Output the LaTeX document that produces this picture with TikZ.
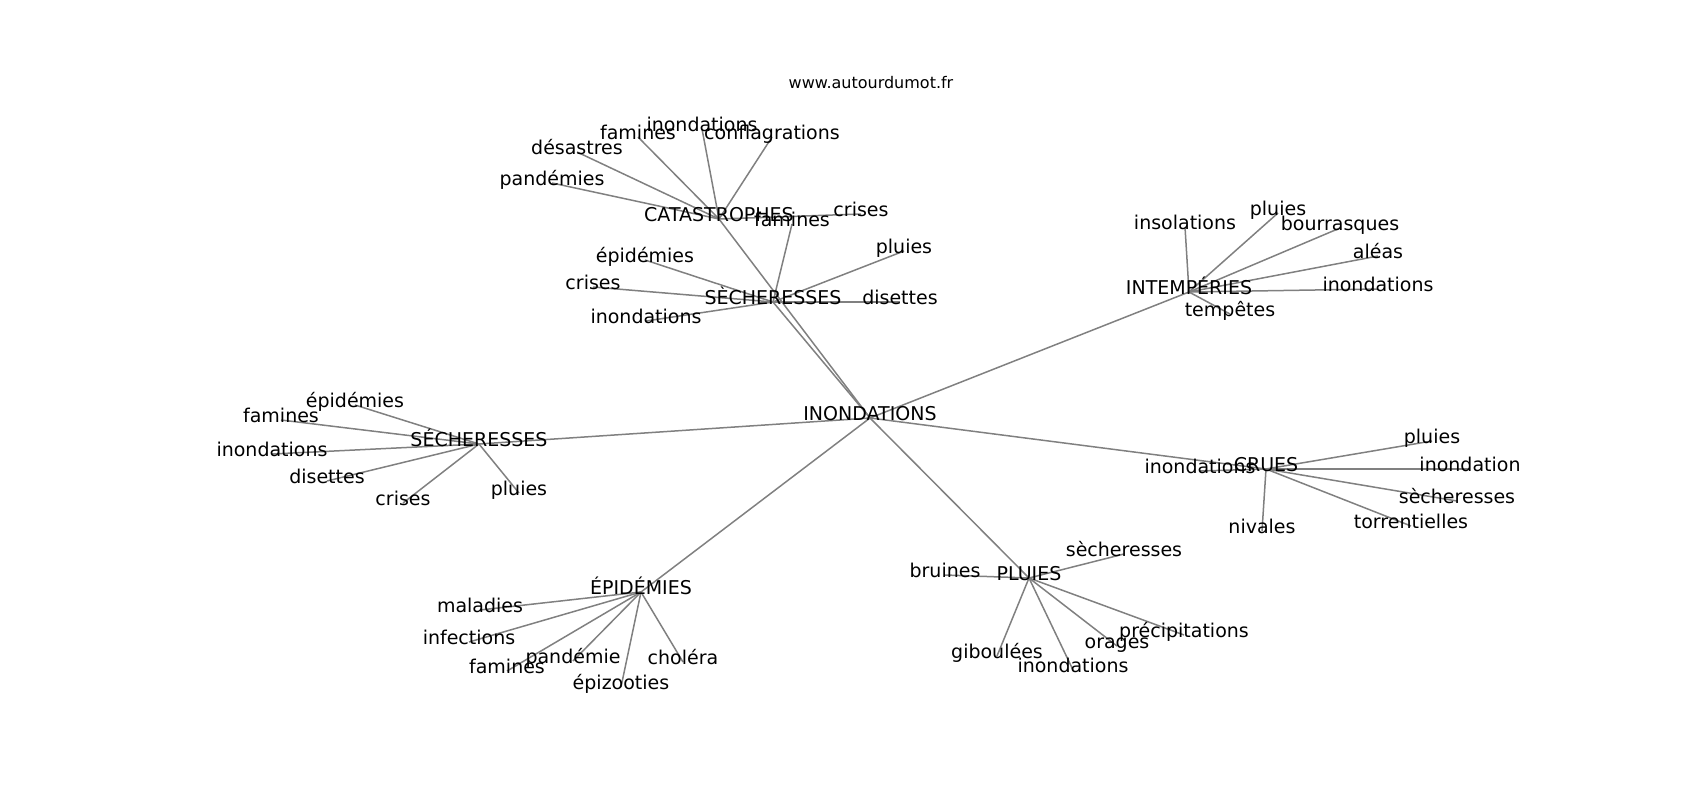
\documentclass[tikz,border=0pt]{standalone}
\usepackage{fontspec}
\setmainfont{DejaVu Sans}
\usetikzlibrary{backgrounds}

\begin{document}
\begin{tikzpicture}[x=1pt, y=-1pt,
	word/.style={inner sep=0pt, yshift=-4pt, text height=0.76em, text depth=0.24em, font=\fontsize{19}{23}\selectfont},
	link/.style={draw=gray, line width=1.5pt}]
	\useasboundingbox (0,0) rectangle (1700,800);

	\node[inner sep=0pt, font=\fontsize{16}{19}\selectfont] (site) at (871,83) {www.autourdumot.fr};

	% centre and first ring
	\node[word] (inond) at (870,414) {INONDATIONS};
	\foreach \n/\x/\y/\t in {cat/719/215/CATASTROPHES, seca/773/298/SÈCHERESSES,
		intemp/1189/288/INTEMPÉRIES, secb/479/440/SÉCHERESSES, crues/1266/465/CRUES,
		pluies/1029/574/PLUIES, epid/641/588/ÉPIDÉMIES}
		\node[word] (\n) at (\x,\y) {\t};

	% second ring
	\foreach \n/\x/\y/\t in {cat1/552/179/pandémies, cat2/577/148/désastres, cat3/638/133/famines,
		cat4/702/125/inondations, cat5/772/133/conflagrations, cat6/861/210/crises}
		\node[word] (\n) at (\x,\y) {\t};
	\foreach \n/\x/\y/\t in {seca1/645/256/épidémies, seca2/593/283/crises, seca3/646/317/inondations,
		seca4/792/220/famines, seca5/904/247/pluies, seca6/900/298/disettes}
		\node[word] (\n) at (\x,\y) {\t};
	\foreach \n/\x/\y/\t in {intemp1/1185/223/insolations, intemp2/1278/209/pluies, intemp3/1340/224/bourrasques,
		intemp4/1378/252/aléas, intemp5/1378/285/inondations, intemp6/1230/310/tempêtes}
		\node[word] (\n) at (\x,\y) {\t};
	\foreach \n/\x/\y/\t in {secb1/355/401/épidémies, secb2/281/416/famines, secb3/272/450/inondations,
		secb4/327/477/disettes, secb5/403/499/crises, secb6/519/489/pluies}
		\node[word] (\n) at (\x,\y) {\t};
	\foreach \n/\x/\y/\t in {crues1/1200/467/inondations, crues2/1432/437/pluies, crues3/1470/465/inondation,
		crues4/1457/497/sècheresses, crues5/1411/522/torrentielles, crues6/1262/527/nivales}
		\node[word] (\n) at (\x,\y) {\t};
	\foreach \n/\x/\y/\t in {pluies1/945/571/bruines, pluies2/1124/550/sècheresses, pluies3/1184/631/précipitations,
		pluies4/1117/642/orages, pluies5/1073/666/inondations, pluies6/997/652/giboulées}
		\node[word] (\n) at (\x,\y) {\t};
	\foreach \n/\x/\y/\t in {epid1/480/606/maladies, epid2/469/638/infections, epid3/507/667/famines,
		epid4/573/657/pandémie, epid5/621/683/épizooties, epid6/683/658/choléra}
		\node[word] (\n) at (\x,\y) {\t};

	\begin{pgfonlayer}{background}
		\foreach \h in {cat,seca,intemp,secb,crues,pluies,epid} {
			\draw[link] (inond.center) -- (\h.center);
			\foreach \i in {1,...,6}
				\draw[link] (\h.center) -- (\h\i.center);
		}
	\end{pgfonlayer}
\end{tikzpicture}
\end{document}
